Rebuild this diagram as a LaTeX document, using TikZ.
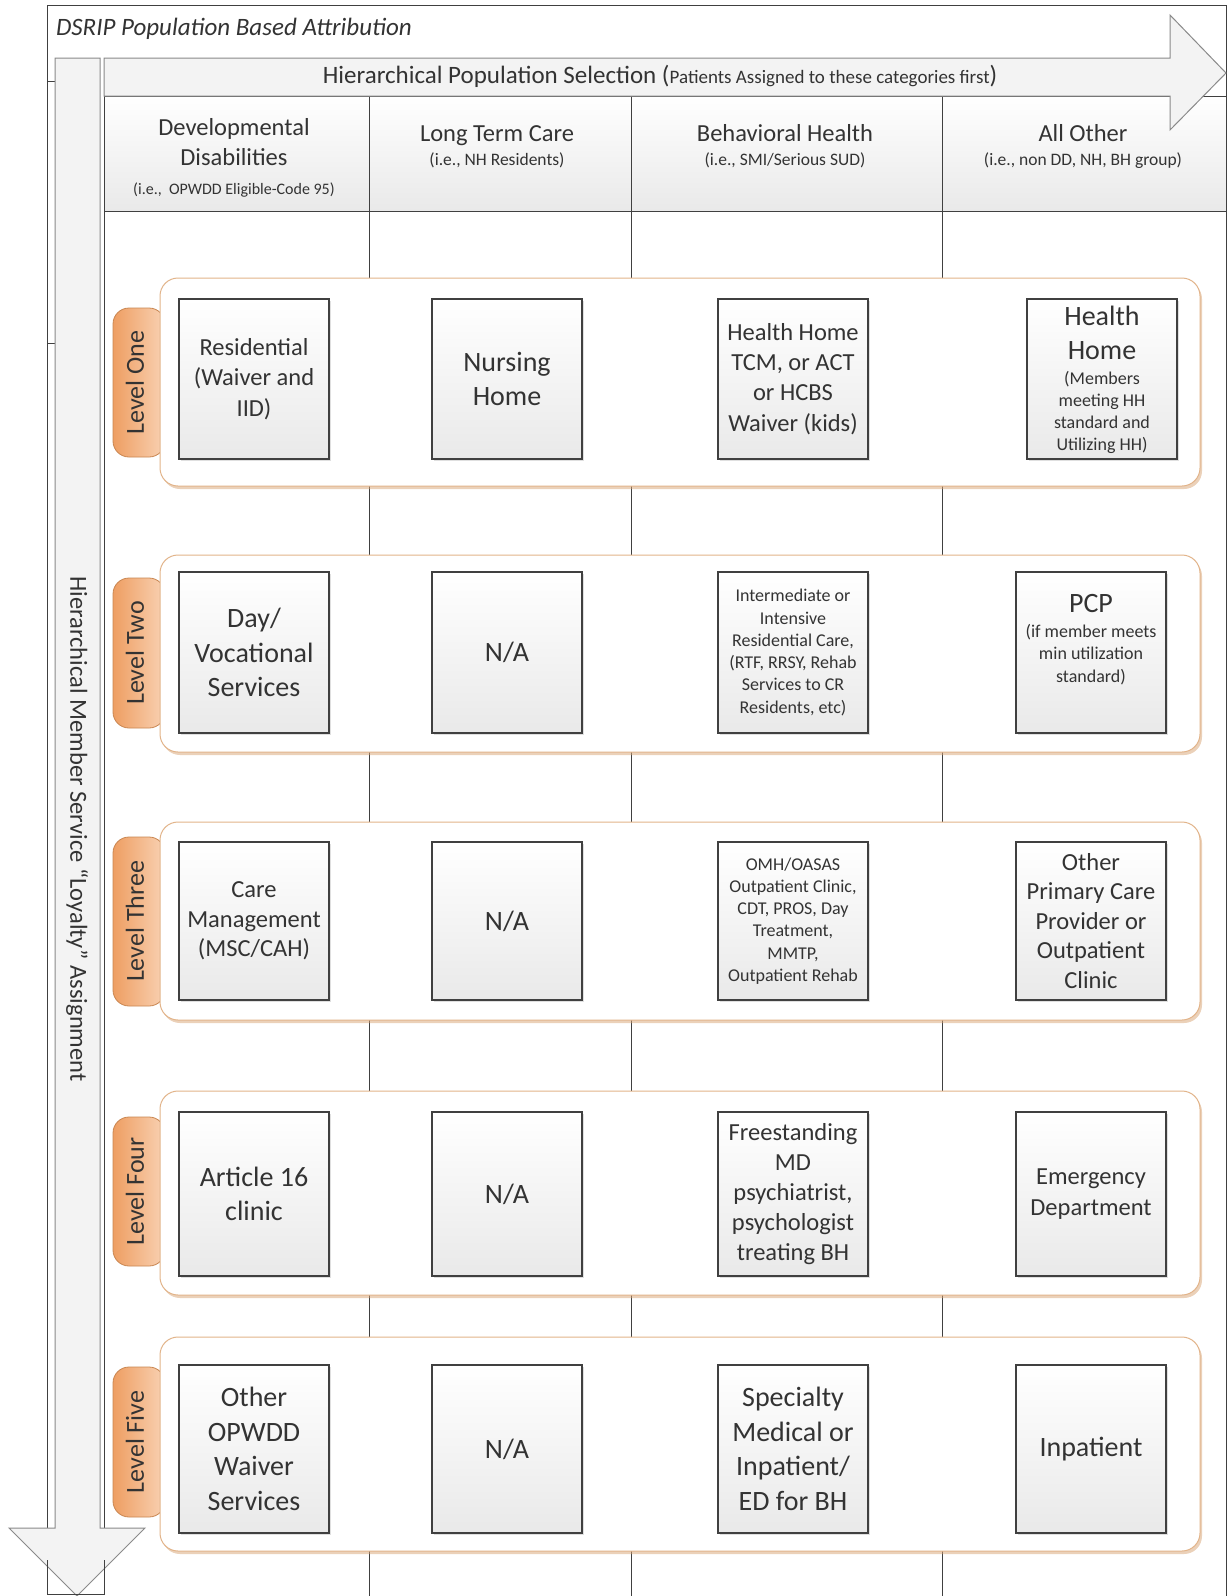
\documentclass[tikz,border=0pt]{standalone}
\usepackage{fontspec}
\setmainfont{Carlito}
\usetikzlibrary{shadows}
\definecolor{txt}{HTML}{333333}
\definecolor{lineg}{HTML}{404040}
\definecolor{arrowfill}{HTML}{F3F3F3}
\definecolor{arrowdraw}{HTML}{8A8A8A}
\definecolor{lvldraw}{HTML}{E2B48A}
\definecolor{tabdark}{HTML}{EE9E62}
\definecolor{tablight}{HTML}{F9D2B4}
\definecolor{tabdraw}{HTML}{C98651}
\definecolor{cellbot}{HTML}{E9E9E9}
\definecolor{hdrbot}{HTML}{E9E9E9}
\newcommand\fsz[2]{\fontsize{#1}{#2}\selectfont}
\begin{document}
\begin{tikzpicture}[x=1pt,y=-1pt,
  every node/.style={text=txt, inner sep=0pt, outer sep=0pt},
  frameline/.style={draw=lineg, line width=1pt},
  arrowshape/.style={fill=arrowfill, draw=arrowdraw, line width=1pt},
  hdrcell/.style={draw=lineg, line width=1pt, top color=white, bottom color=hdrbot, anchor=north west, minimum height=115pt},
  colline/.style={draw=lineg, line width=1pt},
  levelbox/.style={draw=lvldraw, line width=1pt, fill=white, rounded corners=18pt, anchor=north west, minimum width=1040pt,
     drop shadow={shadow xshift=2pt, shadow yshift=-3pt, fill=lvldraw!70!brown, opacity=0.5}},
  tabshape/.style={draw=tabdraw, line width=0.8pt, left color=tabdark, right color=tablight, rounded corners=16pt},
  tabtext/.style={rotate=90, font=\fsz{26}{30}},
  cellbox/.style={draw=lineg, line width=1.2pt, top color=white, bottom color=cellbot, anchor=north west,
     minimum width=150pt, align=center, drop shadow={shadow xshift=1.5pt, shadow yshift=-1.5pt, opacity=0.25}},
  hdrbig/.style={font=\fsz{24.5}{29.5}, anchor=base},
  hdrsmall/.style={font=\fsz{17.5}{20}, anchor=base},
  big/.style={font=\fsz{28}{34.6}},
  mid/.style={font=\fsz{24.5}{30.2}},
  small/.style={font=\fsz{18}{22.3}},
]
\useasboundingbox (0,0) rectangle (1228,1596);
\fill[white] (0,0) rectangle (1228,1596);
% outer frame
\draw[frameline] (47,1594) -- (47,5) -- (1226,5) -- (1226,1596);
\draw[frameline] (47,1594) -- (104,1594);
\draw[frameline] (47,81) -- (55,81);
\draw[frameline] (47,343) -- (55,343);
\node[anchor=west, font=\fsz{25}{28}\itshape] (title) at (56,29) {DSRIP Population Based Attribution};
% column lines
\draw[colline] (104,58) -- (104,1594);
\draw[colline] (369,96) -- (369,1596);
\draw[colline] (631,96) -- (631,1596);
\draw[colline] (942,96) -- (942,1596);
% header cells
\node[hdrcell, minimum width=265pt] (h1) at (104,96) {};
\node[hdrcell, minimum width=262pt] (h2) at (369,96) {};
\node[hdrcell, minimum width=311pt] (h3) at (631,96) {};
\node[hdrcell, minimum width=284pt] (h4) at (942,96) {};
\node[hdrbig] (h1t) at (234,135) {Developmental};
\node[hdrbig] (h1u) at (234,165) {Disabilities};
\node[hdrsmall, font=\fsz{16}{20}] (h1s) at (234,194) {(i.e.,\ \ OPWDD Eligible-Code 95)};
\node[hdrbig] (h2t) at (497,141) {Long Term Care};
\node[hdrsmall] (h2s) at (497,165) {(i.e., NH Residents)};
\node[hdrbig] (h3t) at (785,141) {Behavioral Health};
\node[hdrsmall] (h3s) at (785,165) {(i.e., SMI/Serious SUD)};
\node[hdrbig] (h4t) at (1083,141) {All Other};
\node[hdrsmall] (h4s) at (1083,165) {(i.e., non DD, NH, BH group)};
% top arrow
\path[arrowshape] (104,58) -- (1170,58) -- (1170,15) -- (1226,73) -- (1170,130) -- (1170,96) -- (104,96) -- cycle;
\node (toptext) at (660,76) {{\fsz{25}{28}Hierarchical Population Selection (}{\fsz{19}{22}Patients Assigned to these categories first}{\fsz{25}{28})}};
% left arrow
\path[arrowshape] (55,58) -- (100,58) -- (100,1528) -- (145,1528) -- (77,1596) -- (9,1528) -- (55,1528) -- cycle;
\draw[frameline] (47,1560) -- (47,1594) -- (104,1594) -- (104,1560);
\node[rotate=-90, font=\fsz{24.5}{28}] (lefttext) at (77,829) {Hierarchical Member Service “Loyalty” Assignment};
% tabs
\path[tabshape] (165,308) -- (113,308) -- (113,457) -- (165,457) -- cycle;
\path[tabshape] (165,578) -- (113,578) -- (113,728) -- (165,728) -- cycle;
\path[tabshape] (165,837) -- (113,837) -- (113,1006) -- (165,1006) -- cycle;
\path[tabshape] (165,1117) -- (113,1117) -- (113,1266) -- (165,1266) -- cycle;
\path[tabshape] (165,1367) -- (113,1367) -- (113,1517) -- (165,1517) -- cycle;
\node[tabtext] (t1) at (135,382.5) {Level One};
\node[tabtext] (t2) at (135,653) {Level Two};
\node[tabtext] (t3) at (135,921.5) {Level Three};
\node[tabtext] (t4) at (135,1191.5) {Level Four};
\node[tabtext] (t5) at (135,1442) {Level Five};
% level boxes
\node[levelbox, minimum height=208pt] (lv1) at (160,278) {};
\node[levelbox, minimum height=197pt] (lv2) at (160,555) {};
\node[levelbox, minimum height=198pt] (lv3) at (160,822) {};
\node[levelbox, minimum height=204pt] (lv4) at (160,1091) {};
\node[levelbox, minimum height=214pt] (lv5) at (160,1337) {};
% row 1
\node[cellbox, minimum height=160pt, mid] (c11) at (179,299) {Residential\\(Waiver and\\IID)};
\node[cellbox, minimum height=160pt, big] (c12) at (432,299) {Nursing\\Home};
\node[cellbox, minimum height=160pt, mid] (c13) at (718,299) {Health Home\\TCM, or ACT\\or HCBS\\Waiver (kids)};
\node[cellbox, minimum height=160pt] (c14) at (1027,299) {};
\node[big, align=center] (c14a) at (1102,333) {Health\\Home};
\node[small, align=center] (c14b) at (1102,412.5) {(Members\\meeting HH\\standard and\\Utilizing HH)};
% row 2
\node[cellbox, minimum height=161pt, big] (c21) at (179,572) {Day/\\Vocational\\Services};
\node[cellbox, minimum height=161pt, big] (c22) at (432,572) {N/A};
\node[cellbox, minimum height=161pt, small] (c23) at (718,572) {Intermediate or\\Intensive\\Residential Care,\\(RTF, RRSY, Rehab\\Services to CR\\Residents, etc)};
\node[cellbox, minimum height=161pt] (c24) at (1016,572) {};
\node[big] (c24a) at (1091,604) {PCP};
\node[small, align=center] (c24b) at (1091,654.5) {(if member meets\\min utilization\\standard)};
% row 3
\node[cellbox, minimum height=158pt, font=\fsz{24.5}{29.5}] (c31) at (179,842) {Care\\Management\\(MSC/CAH)};
\node[cellbox, minimum height=158pt, big] (c32) at (432,842) {N/A};
\node[cellbox, minimum height=158pt, small] (c33) at (718,842) {OMH/OASAS\\Outpatient Clinic,\\CDT, PROS, Day\\Treatment,\\MMTP,\\Outpatient Rehab};
\node[cellbox, minimum height=158pt, font=\fsz{24.5}{29.5}] (c34) at (1016,842) {Other\\Primary Care\\Provider or\\Outpatient\\Clinic};
% row 4
\node[cellbox, minimum height=164pt, big] (c41) at (179,1112) {Article 16\\clinic};
\node[cellbox, minimum height=164pt, big] (c42) at (432,1112) {N/A};
\node[cellbox, minimum height=164pt, mid] (c43) at (718,1112) {Freestanding\\MD\\psychiatrist,\\psychologist\\treating BH};
\node[cellbox, minimum height=164pt, mid] (c44) at (1016,1112) {Emergency\\Department};
% row 5
\node[cellbox, minimum height=168pt, big] (c51) at (179,1365) {Other\\OPWDD\\Waiver\\Services};
\node[cellbox, minimum height=168pt, big] (c52) at (432,1365) {N/A};
\node[cellbox, minimum height=168pt, big] (c53) at (718,1365) {Specialty\\Medical or\\Inpatient/\\ED for BH};
\node[cellbox, minimum height=168pt, big] (c54) at (1016,1365) {Inpatient};
\end{tikzpicture}
\end{document}
